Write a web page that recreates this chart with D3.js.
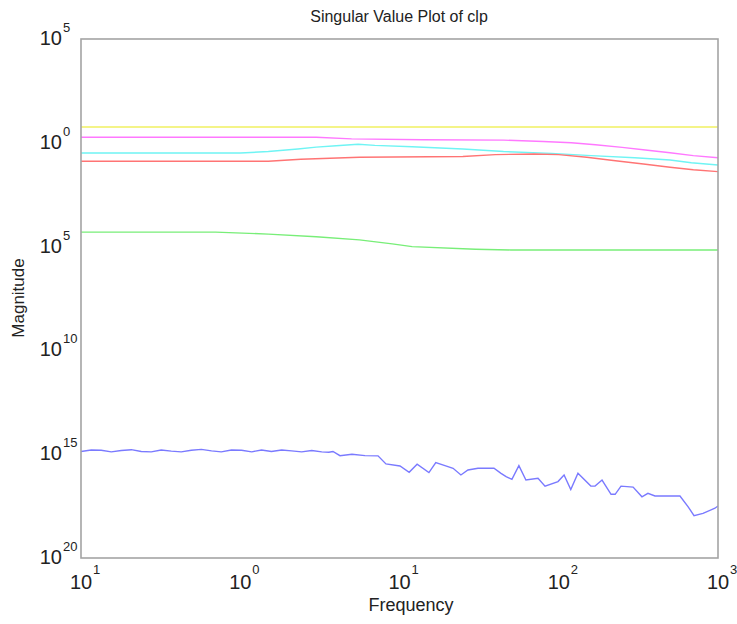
<!DOCTYPE html>
<html><head><meta charset="utf-8">
<script src="https://cdn.jsdelivr.net/npm/d3@7"></script>
<style>body{margin:0;background:#fff}svg text{font-family:"Liberation Sans",Arial,Helvetica,sans-serif;fill:#222}</style></head>
<body><svg id="c" width="737" height="624"></svg>
<script>
// Tick values and the superscripts as printed in the reference
const xTickValues = [0.1, 1, 10, 100, 1000];
const xTickSup = ["1", "0", "1", "2", "3"];
const yTickValues = [1e5, 1, 1e-5, 1e-10, 1e-15, 1e-20];
const yTickSup = ["5", "0", "5", "10", "15", "20"];

// Singular values (frequency, magnitude)
const yellowFreq = [0.1, 1000];
const yellowMag = [5.75, 5.75];

const magentaFreq = [0.1, 3, 5, 14, 45, 80, 120, 170, 250, 350, 500, 700, 1000];
const magentaMag = [1.84, 1.84, 1.55, 1.4, 1.35, 1.15, 1.0, 0.8, 0.6, 0.45, 0.33, 0.24, 0.19];

const cyanFreq = [0.1, 1, 1.5, 2.3, 3, 4, 5.5, 7, 12, 25, 45, 90, 160, 300, 500, 680, 1000];
const cyanMag = [0.32, 0.32, 0.38, 0.5, 0.62, 0.72, 0.85, 0.75, 0.65, 0.5, 0.38, 0.31, 0.24, 0.19, 0.148, 0.11, 0.085];

const redFreq = [0.1, 1.5, 2.4, 5.6, 25, 40, 70, 100, 150, 220, 340, 500, 700, 1000];
const redMag = [0.13, 0.13, 0.16, 0.2, 0.22, 0.27, 0.29, 0.27, 0.2, 0.14, 0.095, 0.066, 0.05, 0.041];

const greenFreq = [0.1, 0.7, 1.5, 3, 5.6, 9, 12, 30, 50, 1000];
const greenMag = [5.0e-5, 5.0e-5, 4.0e-5, 3.0e-5, 2.1e-5, 1.35e-5, 1.0e-5, 7.5e-6, 6.9e-6, 6.9e-6];

const blueFreq = [0.1, 0.116, 0.134, 0.155, 0.179, 0.207, 0.239, 0.276, 0.319, 0.369, 0.426, 0.493, 0.57, 0.66, 0.76, 0.88,
  1.02, 1.18, 1.36, 1.57, 1.82, 2.1, 2.43, 2.81, 3.25, 3.6, 3.82, 4.23, 5.03, 6.07, 7.33, 8.22, 10.07, 11.5, 12.9, 15.3,
  16.9, 19.3, 21.7, 24.3, 26.9, 31.1, 39.2, 43.4, 46.7, 50.8, 56.2, 62.2, 74.1, 82, 98.9, 108, 119, 132, 159, 169, 187,
  213, 226, 246, 293, 333, 363, 402, 577, 648, 707, 805, 957, 1000];
const blueMag = [1.35e-15, 1.6e-15, 1.55e-15, 1.3e-15, 1.5e-15, 1.65e-15, 1.35e-15, 1.3e-15, 1.6e-15, 1.4e-15, 1.3e-15,
  1.55e-15, 1.7e-15, 1.45e-15, 1.3e-15, 1.6e-15, 1.55e-15, 1.3e-15, 1.6e-15, 1.35e-15, 1.6e-15, 1.45e-15, 1.3e-15,
  1.5e-15, 1.3e-15, 1.25e-15, 1.35e-15, 8.5e-16, 1.0e-15, 8.5e-16, 8.3e-16, 3.4e-16, 2.7e-16, 1.35e-16, 3.3e-16, 1.3e-16,
  3.9e-16, 2.8e-16, 2.1e-16, 1.0e-16, 1.74e-16, 2.1e-16, 2.1e-16, 1.2e-16, 8.3e-17, 6.2e-17, 2.8e-16, 5.7e-17, 6.9e-17,
  2.9e-17, 4.8e-17, 1.0e-16, 2.0e-17, 1.2e-16, 2.9e-17, 2.9e-17, 5.7e-17, 1.17e-17, 1.17e-17, 2.9e-17, 2.6e-17, 8.9e-18,
  1.3e-17, 9.7e-18, 9.7e-18, 3.0e-18, 1.1e-18, 1.4e-18, 2.5e-18, 3.2e-18];

const series = [
  {f: yellowFreq, m: yellowMag, color: "#f0f060"},
  {f: magentaFreq, m: magentaMag, color: "#ff78ff"},
  {f: cyanFreq, m: cyanMag, color: "#6ff4f4"},
  {f: redFreq, m: redMag, color: "#ff7474"},
  {f: greenFreq, m: greenMag, color: "#78ee78"},
  {f: blueFreq, m: blueMag, color: "#7a7aff"}
];

const svg = d3.select("#c");
const L = 81, R = 718, T = 39, B = 558;
const x = d3.scaleLog().domain([0.1, 1000]).range([L, R]);
const y = d3.scaleLog().domain([1e-20, 1e5]).range([B, T]);

svg.append("rect").attr("width", 737).attr("height", 624).attr("fill", "#fff");

svg.append("defs").append("clipPath").attr("id", "clip")
  .append("rect").attr("x", L).attr("y", T).attr("width", R - L).attr("height", B - T);

// axes (no tick marks, labels drawn separately)
svg.append("g").attr("transform", `translate(0,${B})`)
  .call(d3.axisBottom(x).tickValues(xTickValues).tickSize(0).tickFormat(""))
  .call(g => g.select(".domain").remove());
svg.append("g").attr("transform", `translate(${L},0)`)
  .call(d3.axisLeft(y).tickValues(yTickValues).tickSize(0).tickFormat(""))
  .call(g => g.select(".domain").remove());

const line = d3.line().x(d => x(d[0])).y(d => y(d[1]));
const gl = svg.append("g").attr("clip-path", "url(#clip)");
series.forEach(s => {
  gl.append("path").datum(d3.zip(s.f, s.m)).attr("d", line)
    .attr("fill", "none").attr("stroke", s.color).attr("stroke-width", 1.4);
});

// frame
svg.append("rect").attr("x", L).attr("y", T).attr("width", R - L).attr("height", B - T)
  .attr("fill", "none").attr("stroke", "#a4a4a4").attr("stroke-width", 1.6);

// y tick labels
yTickValues.forEach((v, i) => {
  const yy = y(v);
  svg.append("text").attr("x", 62).attr("y", yy + 6).attr("text-anchor", "end")
    .attr("font-size", 20).text("10");
  svg.append("text").attr("x", 63).attr("y", yy - 7)
    .attr("font-size", 13).text(yTickSup[i]);
});

// x tick labels
xTickValues.forEach((v, i) => {
  const xx = x(v);
  svg.append("text").attr("x", xx).attr("y", 589).attr("text-anchor", "middle")
    .attr("font-size", 20).text("10");
  svg.append("text").attr("x", xx + 12).attr("y", 574).attr("font-size", 13).text(xTickSup[i]);
});

// titles
svg.append("text").attr("x", 399).attr("y", 22).attr("text-anchor", "middle")
  .attr("font-size", 16).text("Singular Value Plot of clp");
svg.append("text").attr("x", 411).attr("y", 611).attr("text-anchor", "middle")
  .attr("font-size", 18).text("Frequency");
svg.append("text").attr("transform", "translate(24,298) rotate(-90)").attr("text-anchor", "middle")
  .attr("font-size", 17).text("Magnitude");
</script></body></html>
